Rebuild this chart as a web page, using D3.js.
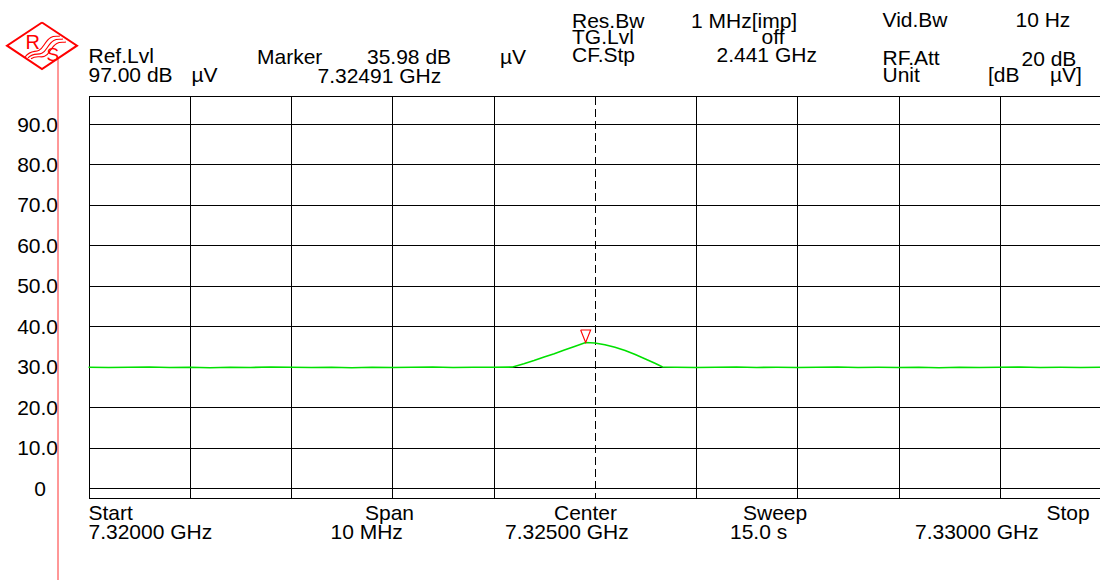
<!DOCTYPE html>
<html>
<head>
<meta charset="utf-8">
<script src="https://cdn.jsdelivr.net/npm/d3@7"></script>
<style>
  html, body { margin: 0; padding: 0; background: #fff; }
  svg { display: block; }
  text { font-family: "Liberation Sans", Arial, sans-serif; font-size: 21px; fill: #000; }
</style>
</head>
<body>
<svg id="svgBox" width="1100" height="582"></svg>
<script>
// trace, frequency in GHz and level in dB uV
const TRACE_FREQ = [
  7.3200, 7.3202, 7.3204, 7.3206, 7.3208, 7.3210, 7.3212, 7.3214, 7.3216, 7.3218,
  7.3220, 7.3222, 7.3224, 7.3226, 7.3228, 7.3230, 7.3232, 7.3234, 7.3236, 7.3238,
  7.3240, 7.32419,
  7.3243, 7.3244, 7.3245, 7.3246, 7.3247, 7.3248, 7.32491, 7.3250, 7.3251, 7.3252,
  7.3253, 7.3254, 7.3255, 7.3256, 7.32567,
  7.3258, 7.3260, 7.3262, 7.3264, 7.3266, 7.3268, 7.3270, 7.3272, 7.3274, 7.3276,
  7.3278, 7.3280, 7.3282, 7.3284, 7.3286, 7.3288, 7.3290, 7.3292, 7.3294, 7.3296,
  7.3298, 7.3300,
]
const TRACE_LEVEL = [
  29.85, 29.8, 29.85, 29.9, 29.8, 29.85, 29.75, 29.85, 29.8, 29.9,
  29.85, 29.8, 29.85, 29.75, 29.85, 29.8, 29.85, 29.9, 29.8, 29.85,
  29.85, 29.9,
  30.7, 31.5, 32.4, 33.2, 34.1, 35.0, 35.98, 35.85, 35.4, 34.8,
  34.0, 33.0, 31.9, 30.8, 29.9,
  29.85, 29.8, 29.85, 29.9, 29.8, 29.85, 29.8, 29.85, 29.9, 29.8,
  29.85, 29.8, 29.85, 29.75, 29.85, 29.8, 29.85, 29.9, 29.8, 29.85,
  29.8, 29.85,
]

const MARKER = { freq: 7.32491, level: 35.98 }

const Y_TICKS = [0, 10, 20, 30, 40, 50, 60, 70, 80, 90]
const X_DIVS = [0, 1, 2, 3, 4, 5, 6, 7, 8, 9, 10]

const REF_LEVEL = 97
const FREQ_START = 7.32
const FREQ_STOP = 7.33

const svg = d3.select("#svgBox")

const plotLeft = 88.5
const plotRight = 1101

const x = d3.scaleLinear().domain([FREQ_START, FREQ_STOP]).range([plotLeft, plotRight])
const y = d3.scaleLinear().domain([0, 90]).range([488, 124])
const div = d3.scaleLinear().domain([0, 10]).range([plotLeft, plotRight])

const plotTop = Math.round(y(REF_LEVEL)) + 0.5
const plotBottom = 498.5

const label = (txt, xPos, yPos, anchor = "start", fill = "#000") =>
  svg.append("text")
    .attr("x", xPos)
    .attr("y", yPos)
    .attr("text-anchor", anchor)
    .style("fill", fill)
    .text(txt)

// grid
const grid = svg.append("g")
  .attr("stroke", "#000")
  .attr("stroke-width", 1)
  .attr("shape-rendering", "crispEdges")

Y_TICKS.forEach((v) => {
  grid.append("line")
    .attr("x1", plotLeft).attr("x2", plotRight)
    .attr("y1", Math.round(y(v)) + 0.5).attr("y2", Math.round(y(v)) + 0.5)
})
X_DIVS.filter((d) => d !== 5).forEach((d) => {
  grid.append("line")
    .attr("x1", Math.round(div(d)) + 0.5).attr("x2", Math.round(div(d)) + 0.5)
    .attr("y1", plotTop).attr("y2", plotBottom)
})
// frame top / bottom
grid.append("line").attr("x1", plotLeft).attr("x2", plotRight).attr("y1", plotTop).attr("y2", plotTop)
grid.append("line").attr("x1", plotLeft).attr("x2", plotRight).attr("y1", plotBottom).attr("y2", plotBottom)

// center line (dashed)
grid.append("line")
  .attr("x1", Math.round(div(5)) + 0.5).attr("x2", Math.round(div(5)) + 0.5)
  .attr("y1", plotTop).attr("y2", plotBottom)
  .attr("stroke-dasharray", "8,4")

// y labels
Y_TICKS.forEach((v) => {
  if (v === 0) {
    label("0", 34.3, y(v) + 7.5)
  } else {
    label(d3.format(".1f")(v), 58, y(v) + 7.5, "end")
  }
})

// trace
const traceData = TRACE_FREQ.map((f, i) => [f, TRACE_LEVEL[i]])
svg.append("path")
  .datum(traceData)
  .attr("fill", "none")
  .attr("stroke", "#00e000")
  .attr("stroke-width", 1.6)
  .attr("d", d3.line().x((d) => x(d[0])).y((d) => y(d[1])))

// marker triangle
const mx = x(MARKER.freq)
const my = y(MARKER.level)
svg.append("path")
  .attr("fill", "none")
  .attr("stroke", "#ff0000")
  .attr("stroke-width", 1.1)
  .attr("d", d3.line()([[mx - 5, my - 12.5], [mx + 5, my - 12.5], [mx, my], [mx - 5, my - 12.5]]))

// header
label("Ref.Lvl", 88.5, 63)
label("97.00 dB", 88.5, 82)
label("\u00b5V", 191.5, 82)
label("Marker", 257, 64)
label("35.98 dB", 367, 64)
label("7.32491 GHz", 317.5, 83)
label("\u00b5V", 500, 64)
label("Res.Bw", 572, 27.5)
label("TG.Lvl", 572, 44)
label("CF.Stp", 572, 62)
label("1 MHz[imp]", 691, 27.5)
label("off", 761.5, 44)
label("2.441 GHz", 716.5, 62)
label("Vid.Bw", 882.5, 27)
label("10 Hz", 1015.5, 27)
label("RF.Att", 882.5, 65)
label("20 dB", 1021.5, 66)
label("Unit", 882.5, 82)
label("[dB", 988, 82)
label("\u00b5V]", 1050, 82)

// footer
label("Start", 88.5, 520)
label("7.32000 GHz", 88.5, 539)
label("Span", 365, 520)
label("10 MHz", 330.5, 538.5)
label("Center", 554, 520)
label("7.32500 GHz", 505, 538.5)
label("Sweep", 743, 520)
label("15.0 s", 730, 538.5)
label("Stop", 1046.5, 520)
label("7.33000 GHz", 915, 538.5)

// R&S logo and red rule
svg.append("line")
  .attr("x1", 58).attr("x2", 58)
  .attr("y1", 58).attr("y2", 580)
  .attr("stroke", "#ff3030")
  .attr("stroke-width", 1)

const logo = svg.append("g")
logo.append("path")
  .attr("fill", "none")
  .attr("stroke", "#ff0000")
  .attr("stroke-width", 2)
  .attr("d", d3.line()([[42, 22.5], [77, 45.7], [42, 69], [7, 45.7], [42, 22.5]]))
;[0, 3, 6].forEach((o) => {
  logo.append("path")
    .attr("fill", "none")
    .attr("stroke", "#ff0000")
    .attr("stroke-width", 1.1)
    .attr("d", `M${25 + o},${57 + o * 0.3} C${33 + o},${47 + o} ${37 + o},${56 + o} ${44 + o},${45 + o} S${54 + o},${37 + o} ${60 + o},${36 + o}`)
})
logo.append("text")
  .attr("x", 25.5).attr("y", 48.5)
  .style("fill", "#ff0000")
  .style("font-size", "20px")
  .text("R")
logo.append("text")
  .attr("x", 46.5).attr("y", 60.5)
  .style("fill", "#ff0000")
  .style("font-size", "19px")
  .text("S")
</script>
</body>
</html>
